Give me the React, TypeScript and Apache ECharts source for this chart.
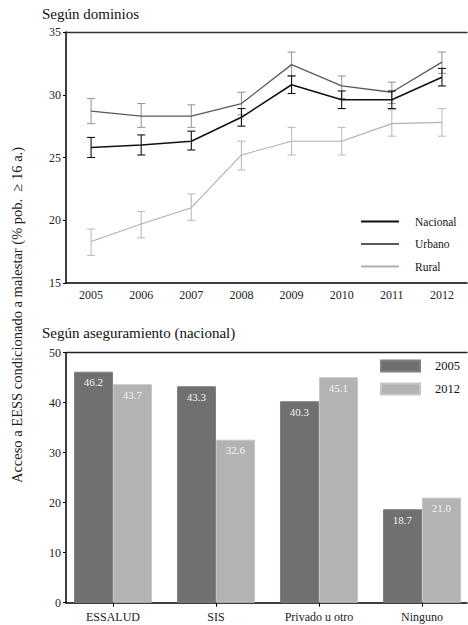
import React, { useEffect, useRef } from "react";
import * as echarts from "echarts";

const FONT = "Liberation Serif";

const years = ["2005", "2006", "2007", "2008", "2009", "2010", "2011", "2012"];
const nacional = [25.8, 26.0, 26.3, 28.2, 30.8, 29.6, 29.6, 31.4];
const nacionalLow = [25.0, 25.2, 25.6, 27.5, 30.1, 28.9, 28.9, 30.7];
const nacionalHigh = [26.6, 26.8, 27.1, 28.9, 31.5, 30.3, 30.3, 32.1];
const urbano = [28.7, 28.3, 28.3, 29.3, 32.4, 30.7, 30.2, 32.6];
const urbanoLow = [27.7, 27.4, 27.4, 28.4, 31.5, 29.7, 29.3, 31.7];
const urbanoHigh = [29.7, 29.3, 29.2, 30.2, 33.4, 31.5, 31.0, 33.4];
const rural = [18.3, 19.7, 21.0, 25.2, 26.3, 26.3, 27.7, 27.8];
const ruralLow = [17.2, 18.6, 20.0, 24.0, 25.2, 25.2, 26.7, 26.7];
const ruralHigh = [19.3, 20.7, 22.1, 26.3, 27.4, 27.4, 28.8, 28.9];

const insurance = ["ESSALUD", "SIS", "Privado u otro", "Ninguno"];
const values2005 = [46.2, 43.3, 40.3, 18.7];
const values2012 = [43.7, 32.6, 45.1, 21.0];

const yLabel = "Acceso a EESS condicionado a malestar (% pob.  \u2265 16 a.)";

function errorSeries(name: string, low: number[], high: number[], color: string, z: number) {
  return {
    type: "custom",
    name: name + "_err",
    xAxisIndex: 0,
    yAxisIndex: 0,
    z,
    silent: true,
    data: low.map((l, i) => [i, l, high[i]]),
    encode: { x: 0, y: [1, 2] },
    renderItem: (params: any, api: any) => {
      const x = api.value(0);
      const pLo = api.coord([x, api.value(1)]);
      const pHi = api.coord([x, api.value(2)]);
      const hw = 4;
      const st = { stroke: color, lineWidth: 1.1 };
      return {
        type: "group",
        children: [
          { type: "line", shape: { x1: pLo[0], y1: pLo[1], x2: pHi[0], y2: pHi[1] }, style: st },
          { type: "line", shape: { x1: pLo[0] - hw, y1: pLo[1], x2: pLo[0] + hw, y2: pLo[1] }, style: st },
          { type: "line", shape: { x1: pHi[0] - hw, y1: pHi[1], x2: pHi[0] + hw, y2: pHi[1] }, style: st },
        ],
      };
    },
  };
}

export default function App() {
  const ref = useRef<HTMLDivElement>(null);
  useEffect(() => {
    if (!ref.current) return;
    const chart = echarts.init(ref.current, null, { renderer: "svg" });
    const tickLabel = { fontFamily: FONT, fontSize: 12, color: "#222" };
    const barLabel = {
      show: true,
      position: "insideTop",
      distance: 5,
      color: "#f2f2f2",
      fontFamily: FONT,
      fontSize: 11,
      formatter: (p: any) => p.value[1].toFixed(1),
    };
    const option: any = {
      animation: false,
      textStyle: { fontFamily: FONT },
      title: [
        {
          text: "Según dominios",
          left: 42,
          top: 6,
          padding: 0,
          textStyle: { fontFamily: FONT, fontSize: 15, fontWeight: "normal", color: "#111" },
        },
        {
          text: "Según aseguramiento (nacional)",
          left: 42,
          top: 325,
          padding: 0,
          textStyle: { fontFamily: FONT, fontSize: 15, fontWeight: "normal", color: "#111" },
        },
      ],
      legend: [
        {
          data: ["Nacional", "Urbano", "Rural"],
          orient: "vertical",
          left: 361,
          top: 214.5,
          padding: 0,
          icon: "rect",
          itemWidth: 38,
          itemHeight: 2,
          itemGap: 8.5,
          textStyle: { fontFamily: FONT, fontSize: 11.5, color: "#111", lineHeight: 14, padding: [0, 0, 0, 11] },
        },
        {
          data: ["2005", "2012"],
          orient: "vertical",
          left: 380,
          top: 359.5,
          padding: 0,
          icon: "rect",
          itemWidth: 39,
          itemHeight: 11,
          itemGap: 10,
          textStyle: { fontFamily: FONT, fontSize: 12.5, color: "#111", lineHeight: 12, padding: [0, 0, 0, 10] },
        },
      ],
      grid: [
        { left: 66, top: 32, width: 401, height: 251, containLabel: false },
        { left: 66, top: 352.7, width: 401, height: 250, containLabel: false },
      ],
      xAxis: [
        {
          type: "category",
          gridIndex: 0,
          data: years,
          boundaryGap: true,
          axisLine: { onZero: false, lineStyle: { color: "#000", width: 1.5 } },
          axisTick: { alignWithLabel: true, length: 4, lineStyle: { color: "#000" } },
          axisLabel: { ...tickLabel, margin: 6 },
        },
        {
          type: "category",
          gridIndex: 0,
          position: "top",
          data: years,
          axisLine: { onZero: false, lineStyle: { color: "#333", width: 1.3 } },
          axisTick: { show: false },
          axisLabel: { show: false },
        },
        {
          type: "value",
          gridIndex: 1,
          min: -0.456,
          max: 3.437,
          splitLine: { show: false },
          axisLine: { onZero: false, lineStyle: { color: "#000", width: 1.5 } },
          axisTick: { customValues: [0, 1, 2, 3], length: 4, lineStyle: { color: "#000" } },
          axisLabel: {
            ...tickLabel,
            margin: 8,
            customValues: [0, 1, 2, 3],
            formatter: (v: number) => insurance[Math.round(v)] ?? "",
          },
        },
        {
          type: "value",
          gridIndex: 1,
          position: "top",
          min: -0.456,
          max: 3.437,
          splitLine: { show: false },
          axisLine: { onZero: false, lineStyle: { color: "#222", width: 1.3 } },
          axisTick: { show: false },
          axisLabel: { show: false },
        },
      ],
      yAxis: [
        {
          type: "value",
          gridIndex: 0,
          min: 15,
          max: 35,
          interval: 5,
          splitLine: { show: false },
          axisLine: { show: true, onZero: false, lineStyle: { color: "#000", width: 1.5 } },
          axisTick: { show: true, length: 3, lineStyle: { color: "#000" } },
          axisLabel: { ...tickLabel, margin: 5 },
        },
        {
          type: "value",
          gridIndex: 1,
          min: 0,
          max: 50,
          interval: 10,
          splitLine: { show: false },
          axisLine: { show: true, onZero: false, lineStyle: { color: "#000", width: 1.5 } },
          axisTick: { show: true, length: 3, lineStyle: { color: "#000" } },
          axisLabel: { ...tickLabel, margin: 5 },
        },
      ],
      graphic: [
        {
          type: "text",
          x: 17,
          y: 315,
          rotation: Math.PI / 2,
          style: {
            text: yLabel,
            fontFamily: FONT,
            fontSize: 14.5,
            fill: "#222",
            align: "center",
            verticalAlign: "middle",
          },
        },
      ],
      series: [
        errorSeries("Rural", ruralLow, ruralHigh, "#bdbdbd", 2),
        errorSeries("Urbano", urbanoLow, urbanoHigh, "#9a9a9a", 3),
        errorSeries("Nacional", nacionalLow, nacionalHigh, "#111", 4),
        {
          type: "line",
          name: "Rural",
          xAxisIndex: 0,
          yAxisIndex: 0,
          data: rural,
          showSymbol: false,
          symbol: "none",
          color: "#b0b0b0",
          lineStyle: { color: "#b0b0b0", width: 1.1 },
          z: 2,
        },
        {
          type: "line",
          name: "Urbano",
          xAxisIndex: 0,
          yAxisIndex: 0,
          data: urbano,
          showSymbol: false,
          symbol: "none",
          color: "#5a5a5a",
          lineStyle: { color: "#5a5a5a", width: 1.3 },
          z: 3,
        },
        {
          type: "line",
          name: "Nacional",
          xAxisIndex: 0,
          yAxisIndex: 0,
          data: nacional,
          showSymbol: false,
          symbol: "none",
          color: "#111",
          lineStyle: { color: "#111", width: 1.6 },
          z: 4,
        },
        {
          type: "bar",
          name: "2005",
          xAxisIndex: 2,
          yAxisIndex: 1,
          data: values2005.map((v, i) => [i, v]),
          barWidth: 39,
          barGap: "0%",
          itemStyle: { color: "#707070", borderColor: "#808080", borderWidth: 1 },
          label: barLabel,
        },
        {
          type: "bar",
          name: "2012",
          xAxisIndex: 2,
          yAxisIndex: 1,
          data: values2012.map((v, i) => [i, v]),
          barWidth: 39,
          barGap: "0%",
          itemStyle: { color: "#b3b3b3", borderColor: "#c6c6c6", borderWidth: 1 },
          label: barLabel,
        },
      ],
    };
    chart.setOption(option);
    return () => chart.dispose();
  }, []);
  return (
    <div
      ref={ref}
      style={{ position: "fixed", left: 0, top: 0, width: 468, height: 625, background: "#fff" }}
    />
  );
}
